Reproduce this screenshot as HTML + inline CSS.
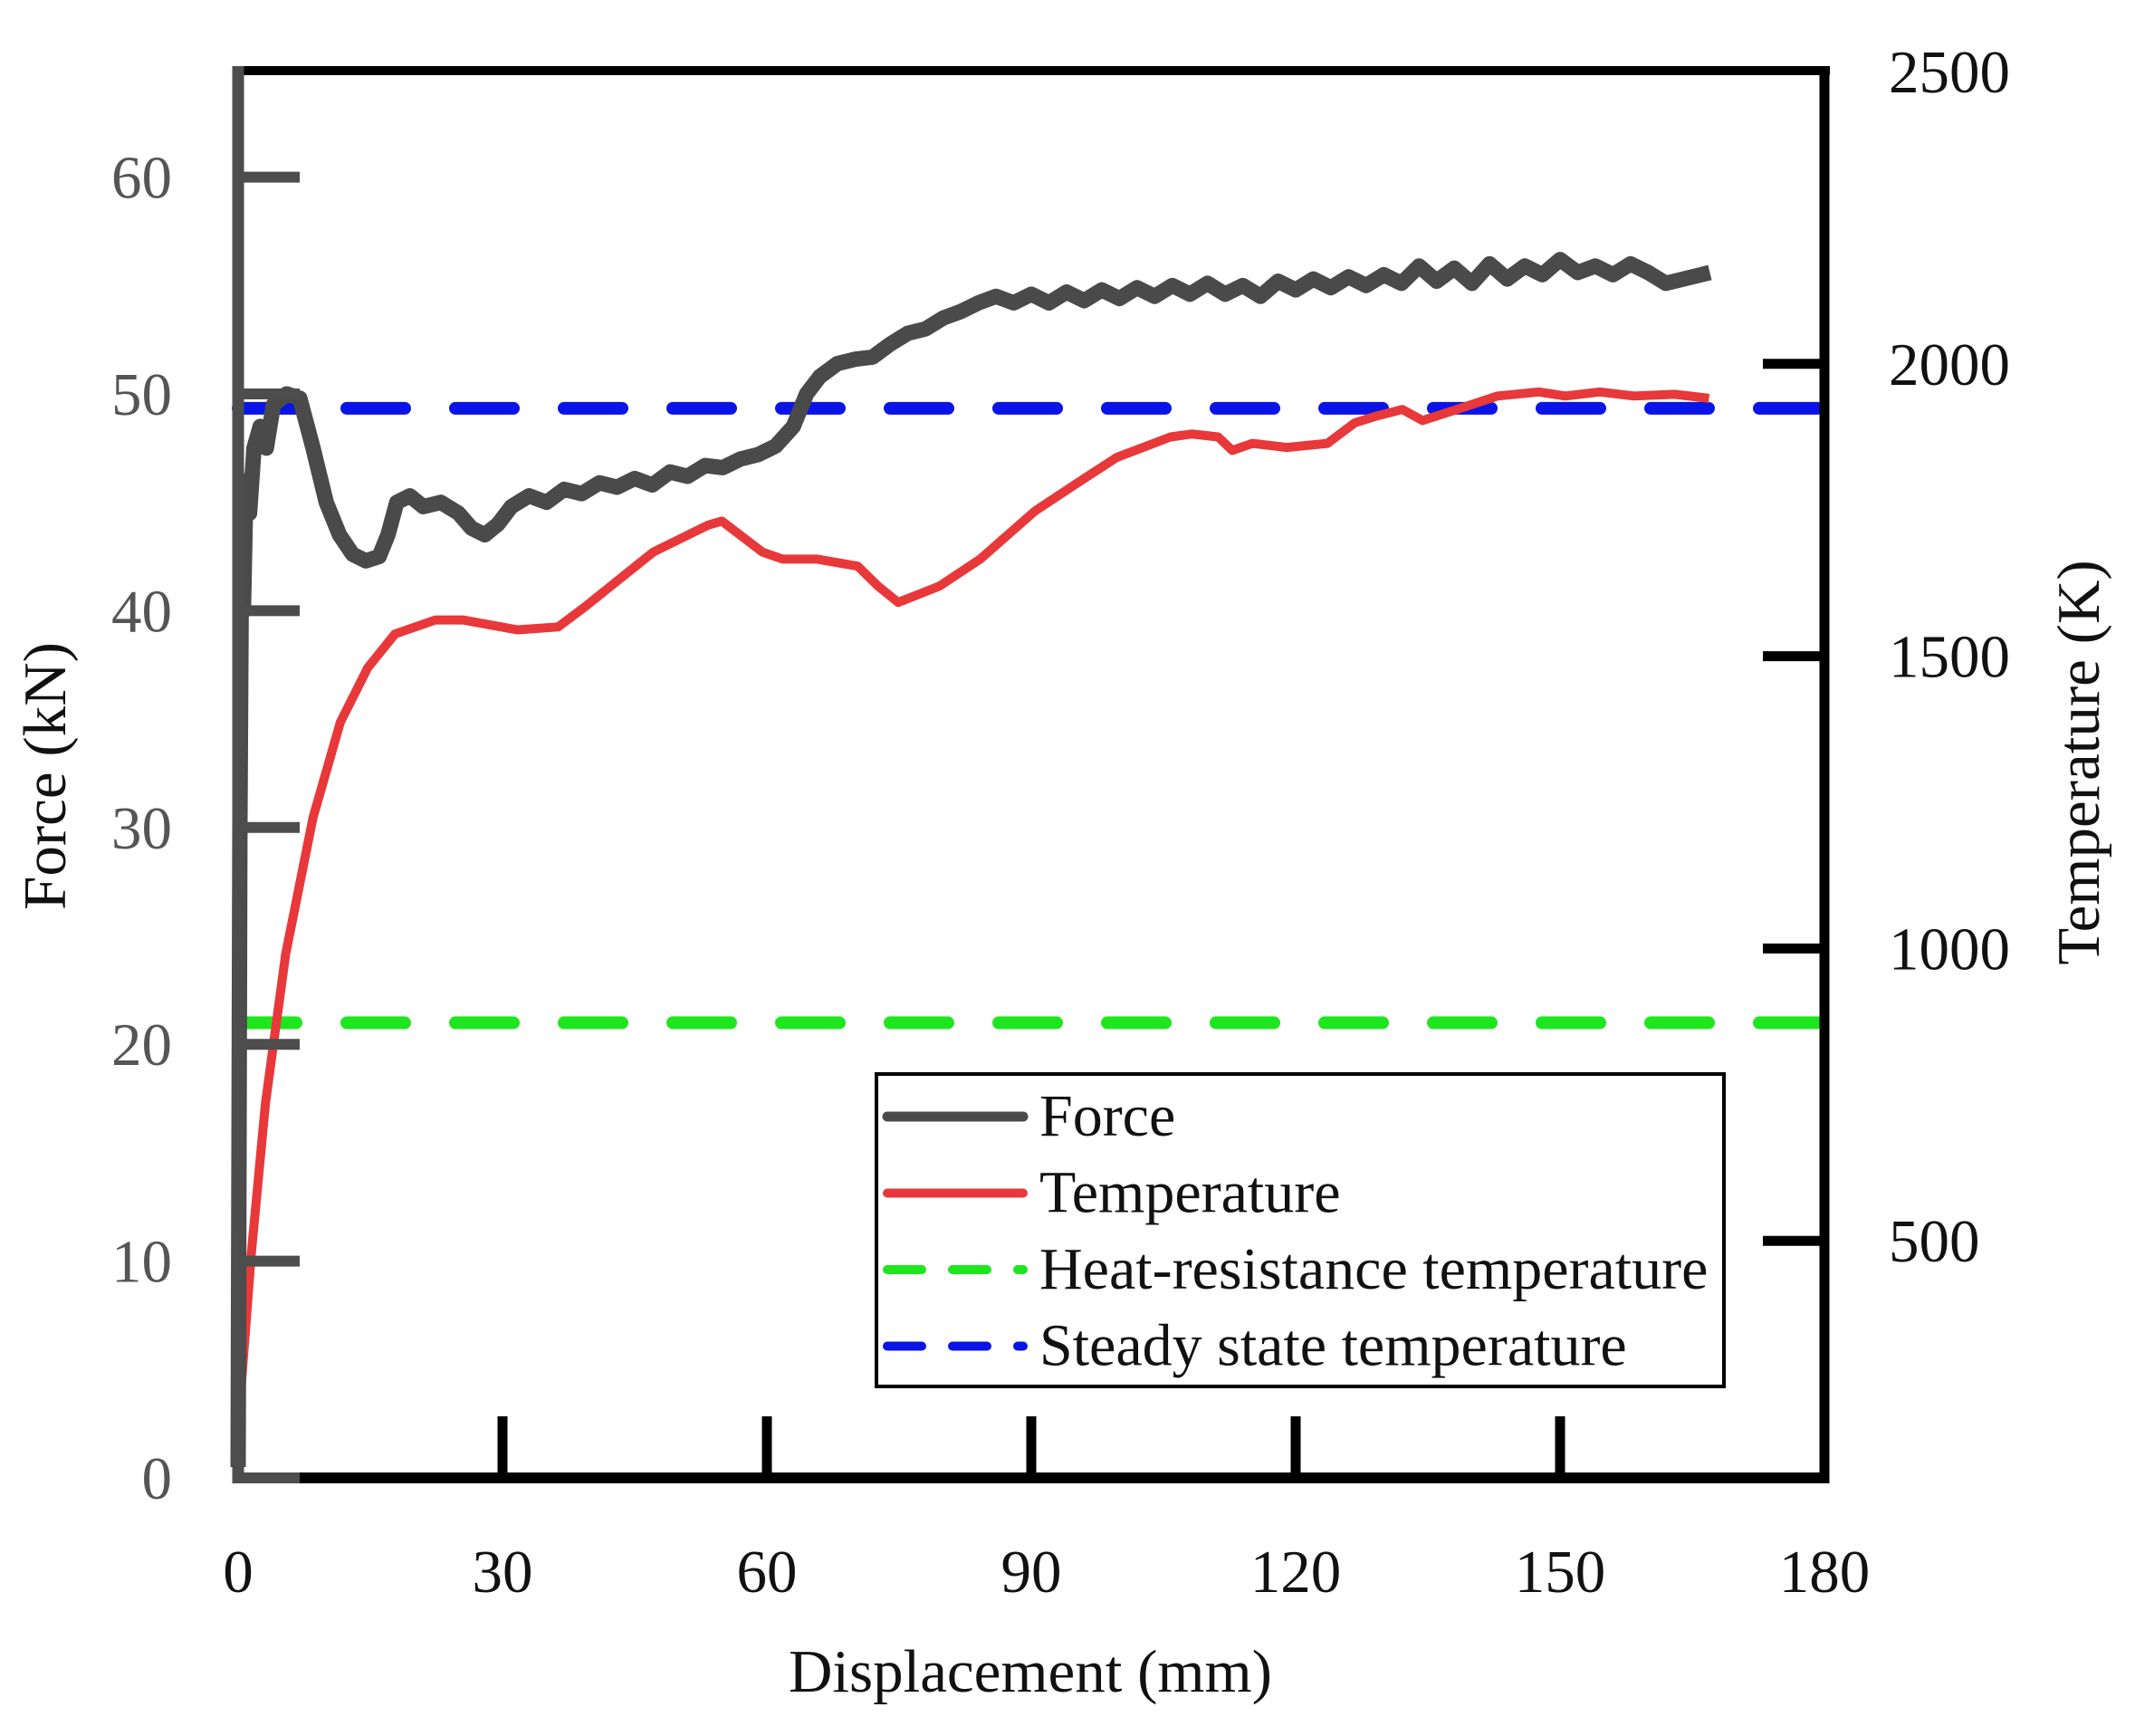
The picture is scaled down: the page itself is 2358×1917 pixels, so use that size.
<!DOCTYPE html>
<html><head><meta charset="utf-8"><style>
html,body{margin:0;padding:0;background:#fff;}
svg{display:block;font-family:"Liberation Serif",serif;}
</style></head><body>
<svg id="chart" width="2358" height="1917" viewBox="0 0 2358 1917">
<g id="plot"></g>
</svg>
<script>
const xTicks=[0,30,60,90,120,150,180];
const forceTicks=[0,10,20,30,40,50,60];
const tempTicks=[500,1000,1500,2000];
const tempLabels=[500,1000,1500,2000,2500];
const forceX=[0,0.2,0.4,0.6,0.9,1.3,1.8,2.5,3.2,4,5.5,7,8.5,10,11.5,13,14.5,16,17,18,19.5,21,23,25,26.5,28,29.5,31,33,35,37,39,41,43,45,47,49,51,53,55,57,59,61,63,64.5,66,68,70,72,74,76,78,80,82,84,86,88,90,92,94,96,98,100,102,104,106,108,110,112,114,116,118,120,122,124,126,128,130,132,134,136,138,140,142,144,146,148,150,152,154,156,158,160,162,164,166,167];
const forceY=[0.5,30,44,40,46,44.5,47.5,48.5,47.5,49.5,50,49.8,47.5,45,43.5,42.6,42.3,42.5,43.5,45,45.3,44.8,45,44.5,43.8,43.5,44,44.8,45.3,45,45.6,45.4,45.9,45.7,46.1,45.8,46.4,46.2,46.7,46.6,47,47.2,47.6,48.5,50,50.8,51.4,51.6,51.7,52.3,52.8,53,53.5,53.8,54.2,54.5,54.2,54.6,54.2,54.7,54.3,54.8,54.4,54.9,54.5,55,54.6,55.1,54.6,55,54.5,55.2,54.8,55.3,54.9,55.4,55,55.5,55.1,55.9,55.2,55.8,55.1,56,55.3,55.9,55.5,56.2,55.6,55.9,55.5,56,55.6,55.1,55.3,55.5,55.6];
const tempX=[0.15,1.5,3.1,5.4,8.5,11.6,14.7,17.8,22.4,25.5,31.7,36.3,39.4,47.1,53.3,54.9,59.5,61.8,65.7,70.3,72.6,74.9,79.6,84.2,90.4,95,99.7,105.8,108.2,111.2,112.8,115.1,119,123.6,126.7,129,132.1,134.4,138.3,142.9,147.6,150.6,154.5,158.4,163,166.9];
const tempY=[211,479,735,991,1224,1387,1480,1538,1562,1562,1545,1550,1585,1678,1724,1731,1678,1666,1666,1654,1620,1592,1620,1666,1748,1794,1840,1875,1880,1875,1852,1864,1857,1864,1899,1910,1922,1903,1922,1945,1952,1945,1952,1945,1948,1941];
const heatResistTemp=873;
const steadyTemp=1924;

const L=263,R=2015,T=78,B=1632;
const xs=v=>L+(R-L)*v/180;
const ys=v=>1632-23.94*v;
const ts=v=>1693-0.6456*v;
const NS='http://www.w3.org/2000/svg';
const svg=document.getElementById('chart');
function mk(tag,attrs){const e=document.createElementNS(NS,tag);for(const k in attrs)e.setAttribute(k,attrs[k]);svg.appendChild(e);return e;}

let g=mk('line',{x1:L,x2:R,y1:ts(heatResistTemp),y2:ts(heatResistTemp),stroke:'#1ee61e','stroke-width':14,'stroke-dasharray':'64 56','stroke-linecap':'round'});


let bl=mk('line',{x1:L,x2:R,y1:ts(steadyTemp),y2:ts(steadyTemp),stroke:'#0a14e6','stroke-width':14,'stroke-dasharray':'64 56','stroke-linecap':'round'});



let tp=mk('polyline',{points:tempX.map((x,i)=>xs(x)+','+ts(tempY[i])).join(' '),fill:'none',stroke:'#e8383a','stroke-width':10,'stroke-linejoin':'round'});


let fp=mk('polyline',{points:forceX.map((x,i)=>xs(x)+','+ys(forceY[i])).join(' '),fill:'none',stroke:'#4a4a4a','stroke-width':17,'stroke-linejoin':'round'});



let tf=mk('line',{x1:L-6,x2:R+6,y1:T,y2:T,stroke:'#000','stroke-width':10});


let rf=mk('line',{x1:R,x2:R,y1:T-5,y2:B+6,stroke:'#000','stroke-width':11});


let bf=mk('line',{x1:L,x2:R+5,y1:B,y2:B,stroke:'#000','stroke-width':12});


let bfg=mk('line',{x1:L-6,x2:L+68,y1:B,y2:B,stroke:'#4d4d4d','stroke-width':12});


let lf=mk('line',{x1:L,x2:L,y1:T-5,y2:B+6,stroke:'#4d4d4d','stroke-width':13});



xTicks.forEach(v=>{
  if(v>0&&v<180){const t=mk('line',{x1:xs(v),x2:xs(v),y1:B,y2:B-68,stroke:'#000','stroke-width':11});
  
  }
  const l=mk('text',{x:xs(v),y:1758,'text-anchor':'middle','font-size':67,fill:'#111'});l.textContent=v;
  
  
});
forceTicks.forEach(v=>{
  if(v>0){const t=mk('line',{x1:L,x2:L+68,y1:ys(v),y2:ys(v),stroke:'#4d4d4d','stroke-width':12});
  
  }
  const l=mk('text',{x:190,y:ys(v)+23,'text-anchor':'end','font-size':67,fill:'#555'});l.textContent=v;
  
  
});
tempTicks.forEach(v=>{
  const t=mk('line',{x1:R,x2:R-68,y1:ts(v),y2:ts(v),stroke:'#000','stroke-width':11});
  
  
});
tempLabels.forEach(v=>{
  const l=mk('text',{x:2086,y:ts(v)+23,'text-anchor':'start','font-size':67,fill:'#111'});l.textContent=v;
  
  
});

let xt=mk('text',{x:1138,y:1868,'text-anchor':'middle','font-size':67,fill:'#111'});xt.textContent='Displacement (mm)';


let yt=mk('text',{x:0,y:0,'text-anchor':'middle','font-size':67,fill:'#111',transform:'translate(72,857) rotate(-90)'});yt.textContent='Force (kN)';


let rt=mk('text',{x:0,y:0,'text-anchor':'middle','font-size':67,fill:'#111',transform:'translate(2318,842) rotate(-90)'});rt.textContent='Temperature (K)';



let lb=mk('rect',{x:968,y:1186,width:936,height:345,fill:'#fff',stroke:'#000','stroke-width':4});


const legNames=['Force','Temperature','Heat-resistance temperature','Steady state temperature'];
const legColors=['#4a4a4a','#e8383a','#1ee61e','#0a14e6'];
const legDash=['','','38 34','38 34'];
legNames.forEach((n,i)=>{
  const y=1233+i*84.5;
  const ln=mk('line',{x1:980,x2:1130,y1:y,y2:y,stroke:legColors[i],'stroke-width':i==0?11:10,'stroke-linecap':'round'});
  if(legDash[i])ln.setAttribute('stroke-dasharray',legDash[i]);
  
  
  const tx=mk('text',{x:1148,y:y+21,'font-size':66,fill:'#111'});tx.textContent=n;
  
  
});
</script>
</body></html>
